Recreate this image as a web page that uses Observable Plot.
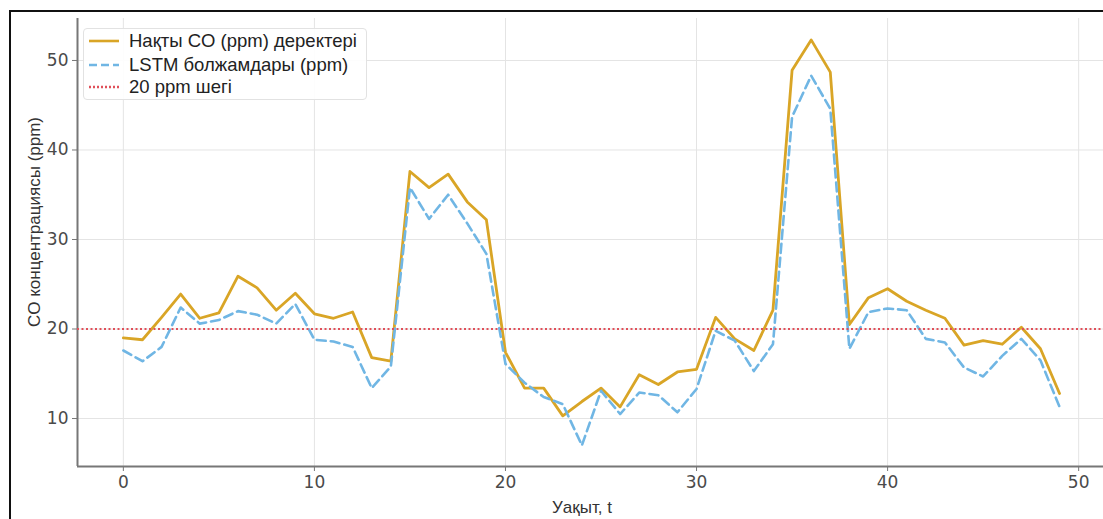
<!DOCTYPE html>
<html>
<head>
<meta charset="utf-8">
<script src="https://cdn.jsdelivr.net/npm/d3@7"></script>
<script src="https://cdn.jsdelivr.net/npm/@observablehq/plot@0.6"></script>
<style>
  html, body { margin: 0; padding: 0; background: #fff; }
  #wrap { position: relative; width: 1103px; height: 519px; overflow: hidden; background: #fff; }
  #frame { position: absolute; left: 9px; top: 10px; width: 1200px; height: 600px; border-top: 2px solid #111; border-left: 2px solid #111; pointer-events: none; }
  #chart { position: absolute; left: 0; top: 0; }
  .lbl { position: absolute; font-family: "Liberation Sans", Arial, sans-serif; color: #333; font-size: 17px; white-space: nowrap; }
  #legend { position: absolute; left: 83px; top: 28px; width: 284px; height: 72px; background: rgba(255,255,255,0.9); border: 1px solid #e2e2e2; border-radius: 4px; box-sizing: border-box; font-family: "Liberation Sans", Arial, sans-serif; font-size: 18.5px; color: #222; }
  #legend .row { position: absolute; left: 4px; height: 22px; display: flex; align-items: center; }
  #legend svg { margin-right: 9px; }
</style>
</head>
<body>
<div id="wrap">
  <div id="chart"></div>
  <div id="frame"></div>
  <div id="legend"></div>
  <div class="lbl" id="ylab"></div>
  <div class="lbl" id="xlab"></div>
</div>
<script>
// ---- data ----
const time = [0,1,2,3,4,5,6,7,8,9,10,11,12,13,14,15,16,17,18,19,20,21,22,23,24,25,26,27,28,29,30,31,32,33,34,35,36,37,38,39,40,41,42,43,44,45,46,47,48,49];
const actualCO = [19.0,18.8,21.3,23.9,21.2,21.8,25.9,24.6,22.1,24.0,21.7,21.2,21.9,16.8,16.4,37.6,35.8,37.3,34.2,32.2,17.4,13.4,13.4,10.3,11.9,13.4,11.3,14.9,13.8,15.2,15.5,21.3,18.9,17.6,22.1,48.9,52.3,48.7,20.5,23.5,24.5,23.1,22.1,21.2,18.2,18.7,18.3,20.2,17.8,12.8];
const predictedCO = [17.6,16.4,18.0,22.4,20.6,21.0,22.0,21.6,20.6,22.8,18.8,18.6,18.0,13.4,15.8,35.8,32.3,35.0,31.8,28.4,16.1,14.0,12.4,11.6,7.0,13.1,10.5,12.9,12.6,10.7,13.3,19.8,18.7,15.3,18.3,43.7,48.3,44.6,17.8,21.9,22.3,22.1,18.9,18.5,15.7,14.7,17.0,18.9,16.5,11.3];
const threshold = 20;
const xTicks = [0,10,20,30,40,50];
const yTicks = [10,20,30,40,50];
const xDomain = [-2.4, 51.3];
const yDomain = [4.64, 54.69];
const seriesNames = ["Нақты CO (ppm) деректері", "LSTM болжамдары (ppm)", "20 ppm шегі"];
const xLabel = "Уақыт, t";
const yLabel = "CO концентрациясы (ppm)";

const colors = { actual: "#d9a526", pred: "#70b6e4", thr: "#e0505a" };

const actualRows = time.map((t, i) => ({ t, v: actualCO[i] }));
const predRows = time.map((t, i) => ({ t, v: predictedCO[i] }));

const chart = Plot.plot({
  width: 1103,
  height: 519,
  marginLeft: 77,
  marginRight: 0,
  marginTop: 18,
  marginBottom: 53,
  style: { fontFamily: "DejaVu Sans, sans-serif", fontSize: "17px", color: "#444", background: "transparent" },
  x: { domain: xDomain },
  y: { domain: yDomain },
  marks: [
    Plot.gridX(xTicks, { stroke: "#e4e4e4", strokeOpacity: 1, strokeWidth: 1 }),
    Plot.gridY(yTicks, { stroke: "#e4e4e4", strokeOpacity: 1, strokeWidth: 1 }),
    Plot.axisX(xTicks, { tickSize: 5, tickPadding: 4, stroke: "#777", fill: "#4a4a4a", fontSize: 17, label: null }),
    Plot.axisY(yTicks, { tickSize: 5, tickPadding: 4, stroke: "#777", fill: "#4a4a4a", fontSize: 17, label: null }),
    Plot.ruleX([xDomain[0]], { stroke: "#777", strokeWidth: 2 }),
    Plot.ruleY([yDomain[0]], { stroke: "#777", strokeWidth: 2 }),
    Plot.line(actualRows, { x: "t", y: "v", stroke: colors.actual, strokeWidth: 2.8 }),
    Plot.line(predRows, { x: "t", y: "v", stroke: colors.pred, strokeWidth: 2.6, strokeDasharray: "9,5" }),
    Plot.ruleY([threshold], { stroke: colors.thr, strokeWidth: 2, strokeDasharray: "2,2.5" })
  ]
});
document.getElementById("chart").appendChild(chart);

// legend
const legend = document.getElementById("legend");
const styles = [
  { color: colors.actual, dash: null },
  { color: colors.pred, dash: "8,4" },
  { color: colors.thr, dash: "2,2" }
];
const rowTops = [1, 25, 47];
seriesNames.forEach((name, i) => {
  const row = document.createElement("div");
  row.className = "row";
  row.style.top = rowTops[i] + "px";
  const s = styles[i];
  row.innerHTML = `<svg width="32" height="20"><line x1="1" x2="31" y1="10" y2="10" stroke="${s.color}" stroke-width="2.6" ${s.dash ? `stroke-dasharray="${s.dash}"` : ""}/></svg><span>${name}</span>`;
  legend.appendChild(row);
});

// axis labels
const ylab = document.getElementById("ylab");
ylab.textContent = yLabel;
ylab.style.left = "35px";
ylab.style.top = "222px";
ylab.style.transform = "translate(-50%, -50%) rotate(-90deg)";

const xlab = document.getElementById("xlab");
xlab.textContent = xLabel;
xlab.style.left = "582px";
xlab.style.top = "508px";
xlab.style.transform = "translate(-50%, -50%)";
</script>
</body>
</html>
